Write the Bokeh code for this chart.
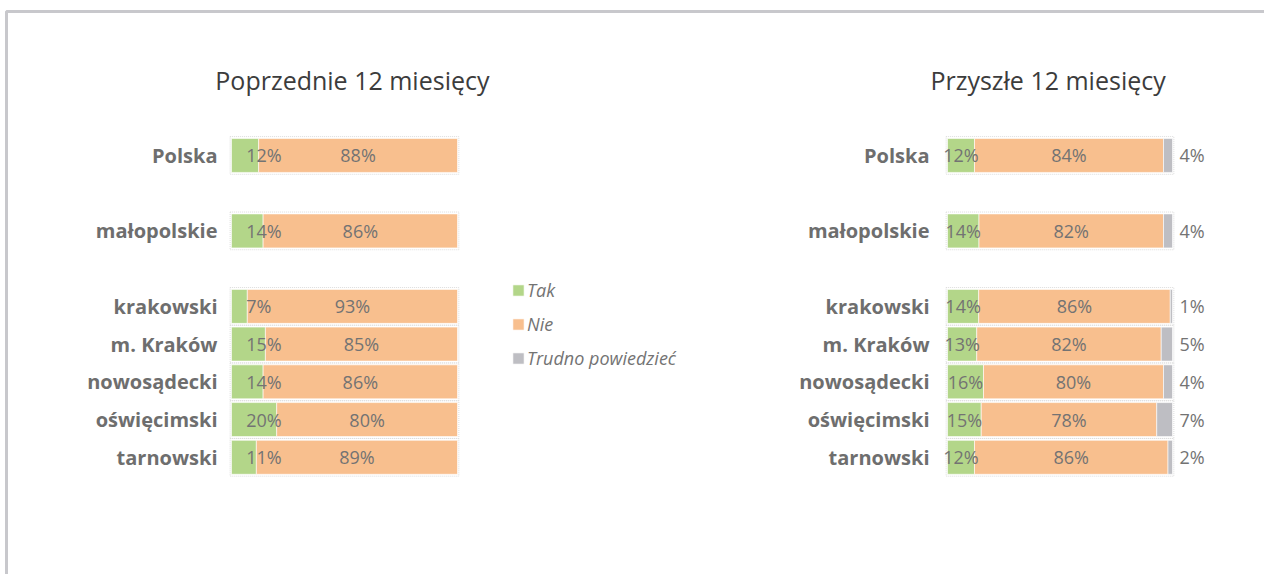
from bokeh.plotting import figure
from bokeh.models import Range1d, FactorRange, Legend, LegendItem, ColumnDataSource, BoxAnnotation
from bokeh.core.properties import value
from bokeh.embed import file_html
from bokeh.resources import INLINE

# ---------------- data ----------------
categories = ["Polska", "małopolskie", "krakowski", "m. Kraków",
              "nowosądecki", "oświęcimski", "tarnowski"]
prev_tak = [12, 14, 7, 15, 14, 20, 11]
prev_nie = [88, 86, 93, 85, 86, 80, 89]
next_tak = [12, 14, 14, 13, 16, 15, 12]
next_nie = [84, 82, 86, 82, 80, 78, 86]
next_trudno = [4, 4, 1, 5, 4, 7, 2]
series_names = ["Tak", "Nie", "Trudno powiedzieć"]
title_left = "Poprzednie 12 miesięcy"
title_right = "Przyszłe 12 miesięcy"

# ---------------- styles ----------------
C_TAK = "#B3D689"
C_NIE = "#F8BF8E"
C_TR = "#BEBEC3"
C_LABEL = "#737373"
C_CAT = "#6E6E6E"
C_TITLE = "#3C3C3C"
C_FRAME = "#C8C8CC"
FONT = "Open Sans"

# row layout: spacer rows between groups
rows_order = ["_t0", "_t1", "_t2",
              categories[0], "_s1", categories[1], "_s2"] + categories[2:] + ["_b0", "_b1"]
PAD = 0.606
y_range = FactorRange(factors=list(reversed(rows_order)),
                      range_padding=PAD, range_padding_units="absolute")

p = figure(width=1264, height=574,
           x_range=Range1d(-102.21, 457.08), y_range=y_range,
           output_backend="svg", toolbar_location=None,
           x_axis_location=None, y_axis_location=None,
           min_border_left=0, min_border_top=0, min_border_right=0, min_border_bottom=0,
           border_fill_color="white", background_fill_color="white",
           outline_line_color=None)
p.extra_x_ranges = {"r": Range1d(-420.89, 140.89)}
p.grid.visible = False

# page frame (only top and left edges are inside the window)
p.add_layout(BoxAnnotation(left=-99.56, right=2000, top=len(rows_order) + PAD - 0.291,
                           bottom=-50, fill_alpha=0, fill_color=None,
                           line_color=C_FRAME, line_alpha=1.0, line_width=3,
                           level="underlay"))

# ---------- left chart ----------
tot_l = [a + b for a, b in zip(prev_tak, prev_nie)]
lt = [100 * a / t for a, t in zip(prev_tak, tot_l)]
ln = [100 * b / t for b, t in zip(prev_nie, tot_l)]
src_l = ColumnDataSource(dict(
    y=categories,
    zero=[0] * len(categories),
    tak_end=lt,
    nie_end=[a + b for a, b in zip(lt, ln)],
    nie_mid=[a + b / 2 for a, b in zip(lt, ln)],
    tak_lbl=[f"{v}%" for v in prev_tak],
    nie_lbl=[f"{v}%" for v in prev_nie],
    lbl_x=[6.5] * len(categories),
    cat_x=[-6.2] * len(categories),
))
p.hbar(y="y", left=-0.6, right=100.6, height=1.0, source=src_l,
       fill_color=None, line_color="#DCDCDC", line_dash="1 1", line_width=1)
r_tak = p.hbar(y="y", left="zero", right="tak_end", height=0.9, source=src_l,
               fill_color=C_TAK, line_color="white", line_width=0.6)
r_nie = p.hbar(y="y", left="tak_end", right="nie_end", height=0.9, source=src_l,
               fill_color=C_NIE, line_color="white", line_width=0.6)
p.text(x="lbl_x", y="y", text="tak_lbl", source=src_l, text_align="left",
       text_baseline="middle", text_font=value(FONT), text_font_size="18px",
       text_color=C_LABEL)
p.text(x="nie_mid", y="y", text="nie_lbl", source=src_l, text_align="center",
       text_baseline="middle", text_font=value(FONT), text_font_size="18px",
       text_color=C_LABEL)
p.text(x="cat_x", y="y", text="y", source=src_l, text_align="right",
       text_baseline="middle", text_font=value(FONT), text_font_size="20px",
       text_font_style="bold", text_color=C_CAT)
p.text(x=[53.5], y=["_t1"], text=[title_left], text_align="center",
       text_baseline="middle", text_font=value(FONT), text_font_size="25px",
       text_color=C_TITLE)

# ---------- right chart ----------
tot_r = [a + b + c for a, b, c in zip(next_tak, next_nie, next_trudno)]
rt = [100 * a / t for a, t in zip(next_tak, tot_r)]
rn = [100 * b / t for b, t in zip(next_nie, tot_r)]
rg = [100 * c / t for c, t in zip(next_trudno, tot_r)]
src_r = ColumnDataSource(dict(
    y=categories,
    zero=[0] * len(categories),
    tak_end=rt,
    tak_mid=[a / 2 for a in rt],
    nie_end=[a + b for a, b in zip(rt, rn)],
    nie_mid=[a + b / 2 for a, b in zip(rt, rn)],
    tr_end=[a + b + c for a, b, c in zip(rt, rn, rg)],
    tak_lbl=[f"{v}%" for v in next_tak],
    nie_lbl=[f"{v}%" for v in next_nie],
    tr_lbl=[f"{v}%" for v in next_trudno],
    tr_x=[103.1] * len(categories),
    cat_x=[-8.0] * len(categories),
))
p.hbar(y="y", left=-0.6, right=100.6, height=1.0, source=src_r, x_range_name="r",
       fill_color=None, line_color="#DCDCDC", line_dash="1 1", line_width=1)
p.hbar(y="y", left="zero", right="tak_end", height=0.9, source=src_r, x_range_name="r",
       fill_color=C_TAK, line_color="white", line_width=0.6)
p.hbar(y="y", left="tak_end", right="nie_end", height=0.9, source=src_r, x_range_name="r",
       fill_color=C_NIE, line_color="white", line_width=0.6)
r_tr = p.hbar(y="y", left="nie_end", right="tr_end", height=0.9, source=src_r,
              x_range_name="r", fill_color=C_TR, line_color="white", line_width=0.6)
p.text(x="tak_mid", y="y", text="tak_lbl", source=src_r, x_range_name="r",
       text_align="center", text_baseline="middle", text_font=value(FONT),
       text_font_size="18px", text_color=C_LABEL)
p.text(x="nie_mid", y="y", text="nie_lbl", source=src_r, x_range_name="r",
       text_align="center", text_baseline="middle", text_font=value(FONT),
       text_font_size="18px", text_color=C_LABEL)
p.text(x="tr_x", y="y", text="tr_lbl", source=src_r, x_range_name="r",
       text_align="left", text_baseline="middle", text_font=value(FONT),
       text_font_size="18px", text_color=C_LABEL)
p.text(x="cat_x", y="y", text="y", source=src_r, x_range_name="r",
       text_align="right", text_baseline="middle", text_font=value(FONT),
       text_font_size="20px", text_font_style="bold", text_color=C_CAT)
p.text(x=[44.7], y=["_t1"], text=[title_right], x_range_name="r",
       text_align="center", text_baseline="middle", text_font=value(FONT),
       text_font_size="25px", text_color=C_TITLE)

# ---------- legend ----------
legend = Legend(items=[LegendItem(label=series_names[0], renderers=[r_tak]),
                       LegendItem(label=series_names[1], renderers=[r_nie]),
                       LegendItem(label=series_names[2], renderers=[r_tr])],
                location=(511, 204), orientation="vertical",
                glyph_width=14, glyph_height=14, label_height=23, spacing=10,
                label_standoff=2, padding=0, margin=0,
                label_text_font=FONT, label_text_font_style="italic",
                label_text_font_size="18px", label_text_color=C_LABEL,
                background_fill_alpha=0, border_line_color=None)
p.add_layout(legend, "center")

open("out.html", "w").write(file_html(p, INLINE))
